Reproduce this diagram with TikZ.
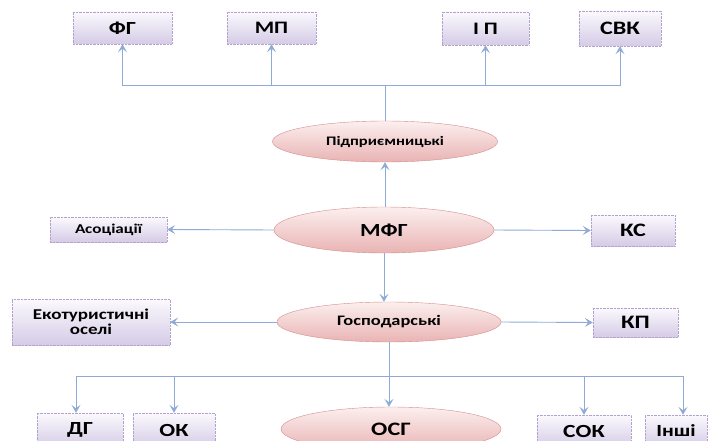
\documentclass[tikz,border=0pt]{standalone}
\usepackage{fontspec}
\setmainfont{Carlito}
\usetikzlibrary{shapes.geometric,arrows.meta}

\definecolor{boxline}{HTML}{B3A2CF}
\definecolor{boxtop}{HTML}{FBF9FD}
\definecolor{boxbot}{HTML}{D5CBE6}
\definecolor{ovline}{HTML}{D58C8C}
\definecolor{ovtop}{HTML}{FCEFEF}
\definecolor{ovbot}{HTML}{E9B3B3}
\definecolor{linkblue}{HTML}{8FAAD6}

% labels in the reference are set wide
\newcommand{\stretchtext}[1]{\scalebox{1.27}[1]{#1}}
\newcommand{\fs}[1]{\fontsize{#1}{#1}\selectfont}

\tikzset{
  kind/.style={rectangle, draw=boxline, densely dotted, top color=boxtop, bottom color=boxbot,
    inner sep=0pt, font=\bfseries, text=black, align=center},
  group/.style={ellipse, draw=ovline, top color=ovtop, bottom color=ovbot,
    inner sep=0pt, font=\bfseries, text=black},
  link/.style={draw=linkblue, line width=0.9pt},
  linkto/.style={link, -{Stealth[length=8pt,width=9pt,inset=3.5pt]}}
}

\begin{document}
\begin{tikzpicture}[x=1pt,y=-1pt]
  \useasboundingbox (0,0) rectangle (712,441);
  \clip (0,0) rectangle (712,441);

  % upper row
  \node[kind, minimum width=99, minimum height=32] (fg) at (122.5,28) {\fs{18.5}\stretchtext{ФГ}};
  \node[kind, minimum width=89, minimum height=32] (mp) at (271.5,28) {\fs{17.5}\stretchtext{МП}};
  \node[kind, minimum width=87, minimum height=33] (ip) at (485.5,28.5) {\fs{17.5}\stretchtext{І П}};
  \node[kind, minimum width=82, minimum height=35] (svk) at (620,28.5) {\fs{19}\stretchtext{СВК}};

  % ovals in the middle
  \node[group, minimum width=225, minimum height=41] (pid) at (385,141.5) {\fs{13}\stretchtext{Підприємницькі}};
  \node[group, minimum width=220, minimum height=46] (mfg) at (384,230) {\fs{18.5}\stretchtext{МФГ}};
  \node[group, minimum width=224, minimum height=40] (gosp) at (389,322) {\fs{14.5}\stretchtext{Господарські}};
  \node[group, minimum width=220, minimum height=44] (osg) at (391,429) {\fs{19}\stretchtext{ОСГ}};

  % side boxes
  \node[kind, minimum width=117, minimum height=25] (asoc) at (108.5,229.5) {\fs{13.5}\stretchtext{Асоціації}};
  \node[kind, minimum width=84, minimum height=31] (ks) at (633,230.5) {\fs{19}\stretchtext{КС}};
  \node[kind, minimum width=158, minimum height=46] (eko) at (91,322) {\fs{15}\stretchtext{Екотуристичні}\\[1pt]\fs{15}\stretchtext{оселі}};
  \node[kind, minimum width=85, minimum height=29] (kp) at (635.5,322.5) {\fs{19}\stretchtext{КП}};

  % lower row
  \node[kind, minimum width=86, minimum height=34] (dg) at (80,430) {\fs{18.5}\stretchtext{ДГ}};
  \node[kind, minimum width=82, minimum height=34] (ok) at (174,430) {\fs{18.5}\stretchtext{ОК}};
  \node[kind, minimum width=94, minimum height=32] (sok) at (584,431) {\fs{18.5}\stretchtext{СОК}};
  \node[kind, minimum width=62, minimum height=32] (inshi) at (676,431) {\fs{17}\stretchtext{Інші}};

  \coordinate (topbus) at (385,85);
  \coordinate (botbus) at (389,376);

  % upper branch
  \draw[link] (pid.north) -- (topbus);
  \draw[linkto] (topbus) -| (fg.south);
  \draw[linkto] (topbus) -| (mp.south);
  \draw[linkto] (topbus) -| (ip.south);
  \draw[linkto] (topbus) -| (svk.south);
  \draw[linkto] (mfg.north -| pid.south) -- (pid.south);

  % sides
  \draw[linkto] (mfg.west) -- (asoc.east);
  \draw[linkto] (mfg.east) -- (ks.west);
  \draw[linkto] (gosp.west) -- (eko.east);
  \draw[linkto] (gosp.east) -- (kp.west);
  \draw[linkto] (mfg.south) -- (mfg.south |- gosp.north);

  % lower branch
  \draw[link] (gosp.south) -- (botbus);
  \draw[linkto] (botbus) -| ([xshift=-4]dg.north);
  \draw[linkto] (botbus) -| (ok.north);
  \draw[linkto] (botbus) -- (botbus |- osg.north);
  \draw[linkto] (botbus) -| (sok.north);
  \draw[linkto] (botbus) -| ([xshift=7]inshi.north);
\end{tikzpicture}
\end{document}
